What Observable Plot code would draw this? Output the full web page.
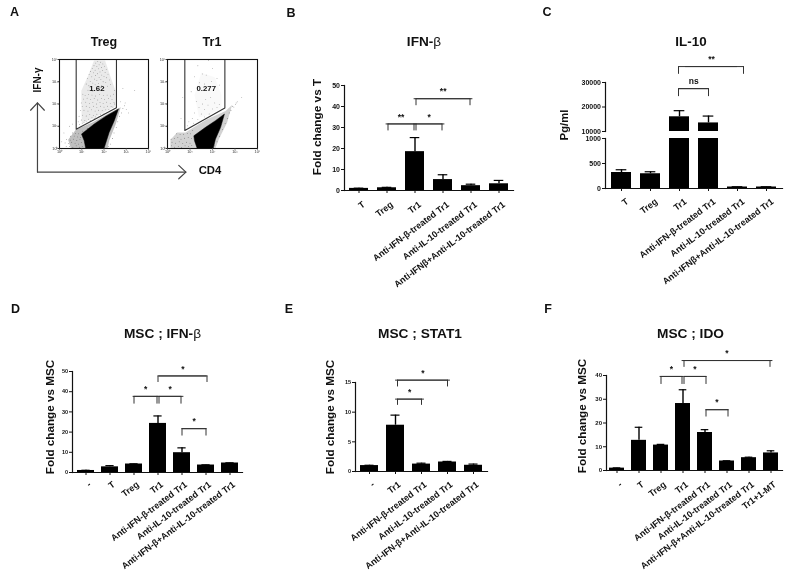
<!DOCTYPE html>
<html>
<head>
<meta charset="utf-8">
<script src="https://cdn.jsdelivr.net/npm/d3@7"></script>
<script src="https://cdn.jsdelivr.net/npm/@observablehq/plot@0.6"></script>
<style>
html,body{margin:0;padding:0;background:#fff;}
#fig{position:relative;width:787px;height:578px;overflow:hidden;font-family:"Liberation Sans",Arial,sans-serif;font-weight:bold;color:#111;will-change:transform;}
#fig svg{position:absolute;}
.lab{position:absolute;white-space:nowrap;line-height:1;}
.lab span{font-weight:normal;}
</style>
</head>
<body>
<div id="fig"></div>
<script>
// ---------- Panel B ----------
const bCategories = ["T","Treg","Tr1","Anti-IFN-β-treated Tr1","Anti-IL-10-treated Tr1","Anti-IFNβ+Anti-IL-10-treated Tr1"];
const bValues = [1,1.3,18.5,5.2,2.3,3.2];
const bErrors = [1.1,1.5,25.2,7.5,3,4.8];
const bBrackets = [
  ["Tr1","Anti-IL-10-treated Tr1",43.7,40.8,"**",1,-1],
  ["Treg","Tr1",31.7,28.8,"**",1,-1],
  ["Tr1","Anti-IFN-β-treated Tr1",31.7,28.8,"*",1,-1]
];
// ---------- Panel C ----------
const cCategories = ["T","Treg","Tr1","Anti-IFN-β-treated Tr1","Anti-IL-10-treated Tr1","Anti-IFNβ+Anti-IL-10-treated Tr1"];
const cValues = [320,295,16000,13500,30,30];
const cErrors = [375,335,18500,16300,35,35];
const cBrackets = [
  ["Tr1","Anti-IL-10-treated Tr1",36500,33700,"**",-1,6],
  ["Tr1","Anti-IFN-β-treated Tr1",27500,24600,"ns",-1,0]
];
// ---------- Panel D ----------
const dCategories = ["-","T","Treg","Tr1","Anti-IFN-β-treated Tr1","Anti-IL-10-treated Tr1","Anti-IFN-β+Anti-IL-10-treated Tr1"];
const dValues = [1,2.8,4.2,24.3,9.8,3.7,4.7];
const dErrors = [1.1,3.4,4.3,28,12.2,3.8,4.8];
const dBrackets = [
  ["Tr1","Anti-IL-10-treated Tr1",47.8,45,"*",0,1],
  ["Treg","Tr1",37.7,34.3,"*",0,-1],
  ["Tr1","Anti-IFN-β-treated Tr1",37.7,34.3,"*",1,-1],
  ["Anti-IFN-β-treated Tr1","Anti-IL-10-treated Tr1",21.7,18.5,"*",0,0]
];
// ---------- Panel E ----------
const eCategories = ["-","Tr1","Anti-IFN-β-treated Tr1","Anti-IL-10-treated Tr1","Anti-IFN-β+Anti-IL-10-treated Tr1"];
const eValues = [1,7.8,1.25,1.6,1.05];
const eErrors = [1.05,9.5,1.4,1.7,1.25];
const eBrackets = [
  ["Tr1","Anti-IL-10-treated Tr1",15.4,14.4,"*",2,0],
  ["Tr1","Anti-IFN-β-treated Tr1",12.2,11.3,"*",2,0]
];
// ---------- Panel F ----------
const fCategories = ["-","T","Treg","Tr1","Anti-IFN-β-treated Tr1","Anti-IL-10-treated Tr1","Anti-IFN-β+Anti-IL-10-treated Tr1","Tr1+1-MT"];
const fValues = [1,12.7,10.7,28.2,16,4,5.4,7.4];
const fErrors = [1.1,18.2,11,34,17.2,4.1,5.6,8.3];
const fBrackets = [
  ["Tr1","Tr1+1-MT",46.3,43.8,"*",1,-1],
  ["Treg","Tr1",39.6,36.6,"*",0,-1],
  ["Tr1","Anti-IFN-β-treated Tr1",39.6,36.6,"*",1,1],
  ["Anti-IFN-β-treated Tr1","Anti-IL-10-treated Tr1",25.6,22.9,"*",1,1]
];
// ---------- Panel A: flow plots, log10 decades ----------
const tregGate = [[0.75,4],[0.75,0.87],[2.56,1.83],[2.56,4]];
const tr1Gate  = [[0.77,4],[0.77,0.81],[2.55,1.82],[2.55,4]];
const tregDense = [[1.18,0],[1.11,.35],[.99,.65],[1.56,1.1],[2.08,1.45],[2.65,1.78],[2.46,1.25],[2.23,.72],[2,0]];
const tregHalo  = [[.51,0],[.39,.39],[.73,.84],[1.5,1.18],[2.1,1.52],[2.75,1.85],[2.53,1.1],[2.23,.35],[2.16,0]];
const tregCloud = [[1,1.15],[.98,2.6],[1.3,3.3],[1.55,3.95],[2.05,3.95],[2.3,3.2],[2.52,2.6],[2.52,1.9],[2,1.62],[1.5,1.35]];
const tr1Dense  = [[1.32,0],[1.2,.35],[1.17,.57],[1.69,.95],[2.13,1.25],[2.53,1.55],[2.36,.95],[2.13,.42],[2.03,0]];
const tr1Halo   = [[.13,0],[.13,.39],[.43,.72],[.8,.72],[1.17,.95],[1.76,1.32],[2.58,1.68],[2.87,1.95],[2.65,1.17],[2.28,.42],[2.13,0]];
const tr1Cloud  = [[1.4,1.4],[1.2,2.4],[1.5,3.4],[2.1,3.2],[2.4,2.4],[2.4,1.8],[1.8,1.5]];
const tregEvents = [
[1.72,3.92],[1.85,3.88],[1.63,3.84],[1.95,3.8],[1.78,3.76],[1.55,3.72],[2.02,3.7],[1.68,3.68],[1.88,3.64],[1.47,3.6],
[1.76,3.58],[2.1,3.56],[1.6,3.52],[1.94,3.5],[1.39,3.46],[1.82,3.44],[2.05,3.42],[1.52,3.4],[1.7,3.36],[2.18,3.34],
[1.33,3.32],[1.9,3.3],[1.62,3.28],[2.0,3.24],[1.45,3.22],[1.78,3.2],[2.12,3.18],[1.25,3.14],[1.57,3.12],[1.86,3.1],
[2.25,3.08],[1.68,3.06],[1.38,3.02],[1.96,3.0],[2.08,2.96],[1.5,2.94],[1.75,2.92],[1.2,2.9],[2.3,2.88],[1.6,2.86],
[1.9,2.84],[1.32,2.82],[2.16,2.8],[1.05,2.44],[1.15,2.38],[1.3,2.42],[1.46,2.4],[1.62,2.36],[1.8,2.42],[1.98,2.38],
[2.14,2.4],[2.3,2.36],[2.42,2.44],[1.08,2.22],[1.24,2.26],[1.4,2.2],[1.56,2.24],[1.72,2.18],[1.88,2.24],[2.02,2.2],
[2.2,2.24],[2.36,2.2],[.98,2.05],[1.18,2.08],[1.34,2.02],[1.5,2.06],[1.66,2],[1.82,2.06],[1.96,2.02],[2.12,2.08],
[2.28,2.02],[2.45,2.06],[1.02,1.88],[1.2,1.9],[1.36,1.84],[1.52,1.9],[1.68,1.84],[1.84,1.9],[2,1.86],[2.16,1.9],
[2.32,1.88],[2.48,2],[.95,1.7],[1.1,1.72],[1.28,1.68],[1.44,1.74],[1.6,1.68],[1.76,1.72],[1.92,1.7],[2.08,1.74],
[2.22,1.76],[2.4,1.86],[.88,1.45],[1.04,1.5],[1.2,1.46],[1.36,1.52],[1.52,1.48],[1.68,1.54],[1.84,1.52],[2,1.58],
[2.14,1.62],[2.28,1.7],[.84,1.2],[.98,1.28],[1.14,1.26],[1.3,1.32],[1.46,1.38],[1.62,1.42],[1.78,1.44],[1.92,1.5],
[1.02,1.14],[1.2,1.2],[1.38,1.25],[1.56,1.34],[.9,1.08],[1.1,1.16],[2.48,2.6],[1.28,2.62],[1.5,2.58],[1.98,2.6],
[3.38,2.6],[3.1,1.6],[2.95,2.05],[.45,1.0],[.2,.7],[.1,.3],[.58,1.1],[2.85,2.7],[3.0,1.75],[2.75,2.1]
];
const tregHaloEvents = [
[.3,.1],[.45,.08],[.6,.05],[.75,.12],[.9,.06],[1.02,.1],[.25,.25],[.4,.22],[.55,.28],[.7,.24],
[.85,.2],[.98,.26],[.32,.4],[.48,.38],[.62,.42],[.78,.36],[.92,.4],[.5,.55],[.66,.56],[.82,.52],
[.95,.5],[.58,.7],[.72,.68],[.86,.66],[1.05,.78],[1.25,.9],[2.3,.2],[2.38,.45],[2.45,.7],[2.55,.95],
[2.62,1.2],[2.7,1.45],[2.78,1.6],[2.85,1.8],[2.92,1.92],[2.2,.1]
];
const tr1Events = [
[1.82,3.96],[1.35,3.72],[2.0,3.6],[1.55,3.35],[1.72,3.3],[1.2,3.22],[2.2,3.15],[1.95,3.02],[1.42,2.95],[1.65,2.9],
[2.3,2.85],[1.05,2.55],[1.28,2.12],[1.7,2.2],[1.92,2.3],[1.55,2.0],[2.1,2.05],[1.4,1.85],[1.8,1.95],[2.3,1.98],
[1.65,1.75],[2.0,1.78],[1.2,1.6],[1.5,1.55],[2.2,1.85],[1.1,1.35],[1.85,1.55],[.95,1.2],[1.35,1.3],[1.65,1.42],
[.88,1.02],[1.15,1.14],[3.3,2.3],[3.1,2.1],[.68,2.3],[.6,1.35],[3.02,1.98],[2.95,1.86]
];
const tr1HaloEvents = [
[.18,.12],[.32,.06],[.48,.1],[.62,.05],[.78,.12],[.94,.08],[1.08,.14],[.2,.28],[.36,.24],[.52,.3],
[.68,.22],[.84,.28],[1.0,.24],[.16,.42],[.3,.44],[.46,.5],[.6,.42],[.76,.46],[.92,.5],[1.06,.44],
[.4,.66],[.56,.62],[.72,.64],[.88,.68],[1.02,.66],[1.12,.8],[2.1,.12],[2.2,.3],[2.32,.55],[2.45,.85],
[2.56,1.12],[2.66,1.35],[2.74,1.6],[2.82,1.72],[2.9,1.9],[3.05,2.05]
];
const decadeTicks = [0,1,2,3,4];
const supers = ["⁰","¹","²","³","⁴"];

const fig = document.getElementById("fig");
const FONT = "Liberation Sans, Arial, sans-serif";

function label(html, cx, cy, size, rot) {
  const d = document.createElement("div");
  d.className = "lab";
  d.innerHTML = html;
  d.style.left = cx + "px";
  d.style.top = cy + "px";
  d.style.fontSize = size + "px";
  d.style.transform = "translate(-50%,-50%)" + (rot ? ` rotate(${rot}deg)` : "");
  fig.appendChild(d);
}

function place(svg, left, top) {
  svg.style.left = left + "px";
  svg.style.top = top + "px";
  fig.appendChild(svg);
}

function barPanel(o) {
  const ML = 30, MT = 60, MB = o.xAxis === false ? 2 : 118, MR = 6;
  const plotW = o.x1 - o.x0, plotH = o.y0 - o.yTop;
  const step = plotW / o.categories.length;
  const table = o.categories.map((c, i) => ({c, v: o.values[i], e: o.errors[i]}));
  const br = (o.brackets || []).map(b => ({from: b[0], to: b[1], top: b[2], leg: b[3], mark: b[4], s1: b[5], s2: b[6]}));
  const idx = c => o.categories.indexOf(c);
  const inset = (step * (1 - o.padding) - o.cap) / 2;
  const clip = !!o.clip;
  const marks = [
    Plot.barY(table, {x: "c", y: "v", fill: "#000", clip}),
    Plot.ruleX(table, {x: "c", y1: "v", y2: "e", stroke: "#000", strokeWidth: 1.4, clip}),
    Plot.tickY(table, {x: "c", y: "e", stroke: "#000", strokeWidth: 1.2, insetLeft: inset, insetRight: inset, clip}),
    Plot.frame({anchor: "left", stroke: "#111", strokeWidth: 1.2})
  ];
  if (o.xAxis !== false) {
    marks.push(Plot.frame({anchor: "bottom", stroke: "#111", strokeWidth: 1.2}));
    marks.push(Plot.axisX({anchor: "bottom", tickSize: 3, tickFormat: () => "", label: null, stroke: "#111"}));
    marks.push(Plot.text(o.categories, {x: d => d, frameAnchor: "bottom", textAnchor: "end", lineAnchor: "middle", rotate: o.rotate || -37, dx: o.lx, dy: o.ly, fontSize: o.xFont, fontWeight: "bold", fill: "#111"}));
  } else {
    marks.push(Plot.axisX({ticks: [], label: null}));
  }
  marks.push(Plot.axisY({anchor: "left", ticks: o.ticks, tickSize: 3, tickPadding: 1.5, fontSize: o.yFont, label: null, stroke: "#111", tickFormat: d => String(d)}));
  for (const b of br) {
    const st = {stroke: "#333", strokeWidth: 1};
    marks.push(Plot.line([[b.from, b.top], [b.to, b.top]], {x: d => d[0], y: d => d[1], dx: b.s1, ...st}));
    marks.push(Plot.line([[b.from, b.top], [b.to, b.top]], {x: d => d[0], y: d => d[1], dx: b.s2, ...st}));
    marks.push(Plot.line([[b.from, b.leg], [b.from, b.top]], {x: d => d[0], y: d => d[1], dx: b.s1, ...st}));
    marks.push(Plot.line([[b.to, b.leg], [b.to, b.top]], {x: d => d[0], y: d => d[1], dx: b.s2, ...st}));
    const mid = (idx(b.to) - idx(b.from)) * step / 2 + (b.s1 + b.s2) / 2;
    marks.push(Plot.text([b.from], {x: d => d, y: () => b.top, dx: mid, dy: -7, text: () => b.mark, fontSize: 8.5, fontWeight: "bold", fill: "#111"}));
  }
  const svg = Plot.plot({
    width: ML + plotW + MR,
    height: MT + plotH + MB,
    marginLeft: ML, marginRight: MR, marginTop: MT, marginBottom: MB,
    style: {background: "transparent", overflow: "visible", fontFamily: FONT, fontWeight: "bold", color: "#111"},
    x: {type: "band", domain: o.categories, paddingInner: o.padding, paddingOuter: o.padding / 2, align: 0.5, label: null},
    y: {domain: o.domain, label: null},
    marks
  });
  place(svg, o.x0 - ML, o.yTop - MT);
}

function flowPanel(o) {
  const ML = 12, MT = 4, MB = 10, MR = 4;
  const S = 89;
  const pts = () => ({x: d => d[0], y: d => d[1]});
  const marks = [
    Plot.line(o.cloud, {...pts(), fill: "#888", fillOpacity: o.cloudOpacity, stroke: "none"}),
    Plot.line(o.halo, {...pts(), fill: "#8a8a8a", fillOpacity: o.haloOpacity, stroke: "none"}),
    Plot.line(o.dense, {...pts(), fill: "#000", stroke: "#000", strokeWidth: 0.5}),
    Plot.dot(o.events, {...pts(), r: 0.4, fill: "#666", stroke: "none", clip: true}),
    Plot.dot(o.haloEvents, {...pts(), r: 0.4, fill: "#444", stroke: "none", clip: true}),
    Plot.line(o.gate, {...pts(), stroke: "#333", strokeWidth: 1.1}),
    Plot.frame({stroke: "#111", strokeWidth: 1.1}),
    Plot.axisX({anchor: "bottom", ticks: decadeTicks, tickSize: 1.5, tickPadding: 0.5, fontSize: 3.8, label: null, fontWeight: "normal", tickFormat: d => "10" + supers[d]}),
    Plot.axisY({anchor: "left", ticks: decadeTicks, tickSize: 1.5, tickPadding: 0.5, fontSize: 3.8, label: null, fontWeight: "normal", tickFormat: d => "10" + supers[d]}),
    Plot.text([o.value], {x: () => o.valueAt[0], y: () => o.valueAt[1], text: d => d, fontSize: 7.8, fontWeight: "bold", fill: "#111"})
  ];
  if (o.arrows) for (const a of o.arrows) {
    marks.push(Plot.line(a, {...pts(), stroke: "#444", strokeWidth: 1.2}));
  }
  const svg = Plot.plot({
    width: ML + o.w + MR, height: MT + S + MB,
    marginLeft: ML, marginRight: MR, marginTop: MT, marginBottom: MB,
    style: {background: "transparent", overflow: "visible", fontFamily: FONT, color: "#333"},
    x: {type: "linear", domain: [0, 4], label: null},
    y: {type: "linear", domain: [0, 4], label: null},
    marks
  });
  place(svg, o.left - ML, 59 - MT);
}

// axis arrows, expressed in the Treg plot's decade coordinates
const arrowLines = [
  [[-0.99,-1.06],[-0.99,2.05]],
  [[-0.99,-1.06],[5.68,-1.06]],
  [[-1.3,1.72],[-0.99,2.05],[-0.68,1.72]],
  [[5.36,-0.76],[5.68,-1.06],[5.36,-1.36]]
];
flowPanel({left: 59, w: 89, gate: tregGate, dense: tregDense, halo: tregHalo, cloud: tregCloud, cloudOpacity: 0.18, haloOpacity: 0.55, events: tregEvents, haloEvents: tregHaloEvents, value: "1.62", valueAt: [1.68, 2.69], arrows: arrowLines});
flowPanel({left: 167, w: 90, gate: tr1Gate, dense: tr1Dense, halo: tr1Halo, cloud: tr1Cloud, cloudOpacity: 0.05, haloOpacity: 0.38, events: tr1Events, haloEvents: tr1HaloEvents, value: "0.277", valueAt: [1.72, 2.68]});

barPanel({categories: bCategories, values: bValues, errors: bErrors, brackets: bBrackets,
  x0: 344, x1: 513, y0: 190, yTop: 85, domain: [0, 50], ticks: [0,10,20,30,40,50], padding: 0.31, cap: 10, xFont: 9, yFont: 7, lx: 5, ly: 13});

barPanel({categories: cCategories, values: cValues, errors: cErrors, brackets: cBrackets,
  x0: 605, x1: 782, y0: 131, yTop: 82, domain: [10000, 30000], ticks: [10000,20000,30000], padding: 0.31, cap: 11, yFont: 7, xAxis: false, clip: true});
barPanel({categories: cCategories, values: cValues, errors: cErrors,
  x0: 605, x1: 782, y0: 188, yTop: 138, domain: [0, 1000], ticks: [0,500,1000], padding: 0.31, cap: 11, xFont: 9, yFont: 7, clip: true, lx: 6, ly: 12});

barPanel({categories: dCategories, values: dValues, errors: dErrors, brackets: dBrackets,
  x0: 72, x1: 242, y0: 472, yTop: 371, domain: [0, 50], ticks: [0,10,20,30,40,50], padding: 0.31, cap: 8, xFont: 9, yFont: 5.5, lx: 4, ly: 11});

barPanel({categories: eCategories, values: eValues, errors: eErrors, brackets: eBrackets,
  x0: 355, x1: 487, y0: 471, yTop: 382, domain: [0, 15], ticks: [0,5,10,15], padding: 0.32, cap: 9, xFont: 9, yFont: 5.5, lx: 4, ly: 12});

barPanel({categories: fCategories, values: fValues, errors: fErrors, brackets: fBrackets,
  x0: 606, x1: 782, y0: 470, yTop: 375, domain: [0, 40], ticks: [0,10,20,30,40], padding: 0.3, cap: 8, xFont: 9, yFont: 6, lx: 4, ly: 13});

// panel letters
label("A", 14.5, 12, 12.5); label("B", 291, 12.5, 12.5); label("C", 547, 12, 12.5);
label("D", 15.5, 309, 12.5); label("E", 289, 309, 12.5); label("F", 548, 309, 12.5);
// titles
label("Treg", 104, 42, 12.5); label("Tr1", 212, 42, 12.5);
label("IFN-<span>β</span>", 424, 42, 13.6); label("IL-10", 691, 42, 13.4);
label("MSC ; IFN-<span>β</span>", 162.5, 334, 13.7); label("MSC ; STAT1", 420, 334, 13.7); label("MSC ; IDO", 690.5, 334, 13.7);
// axis titles
label("IFN-γ", 38, 80, 10, -90); label("CD4", 210, 170.5, 11.3);
label("Fold change vs T", 318, 127, 11.8, -90);
label("Pg/ml", 565, 124.5, 11.3, -90);
label("Fold change vs MSC", 49.5, 416.5, 11.7, -90);
label("Fold change vs MSC", 330, 416.5, 11.7, -90);
label("Fold change vs MSC", 582, 416, 11.7, -90);
</script>
</body>
</html>
